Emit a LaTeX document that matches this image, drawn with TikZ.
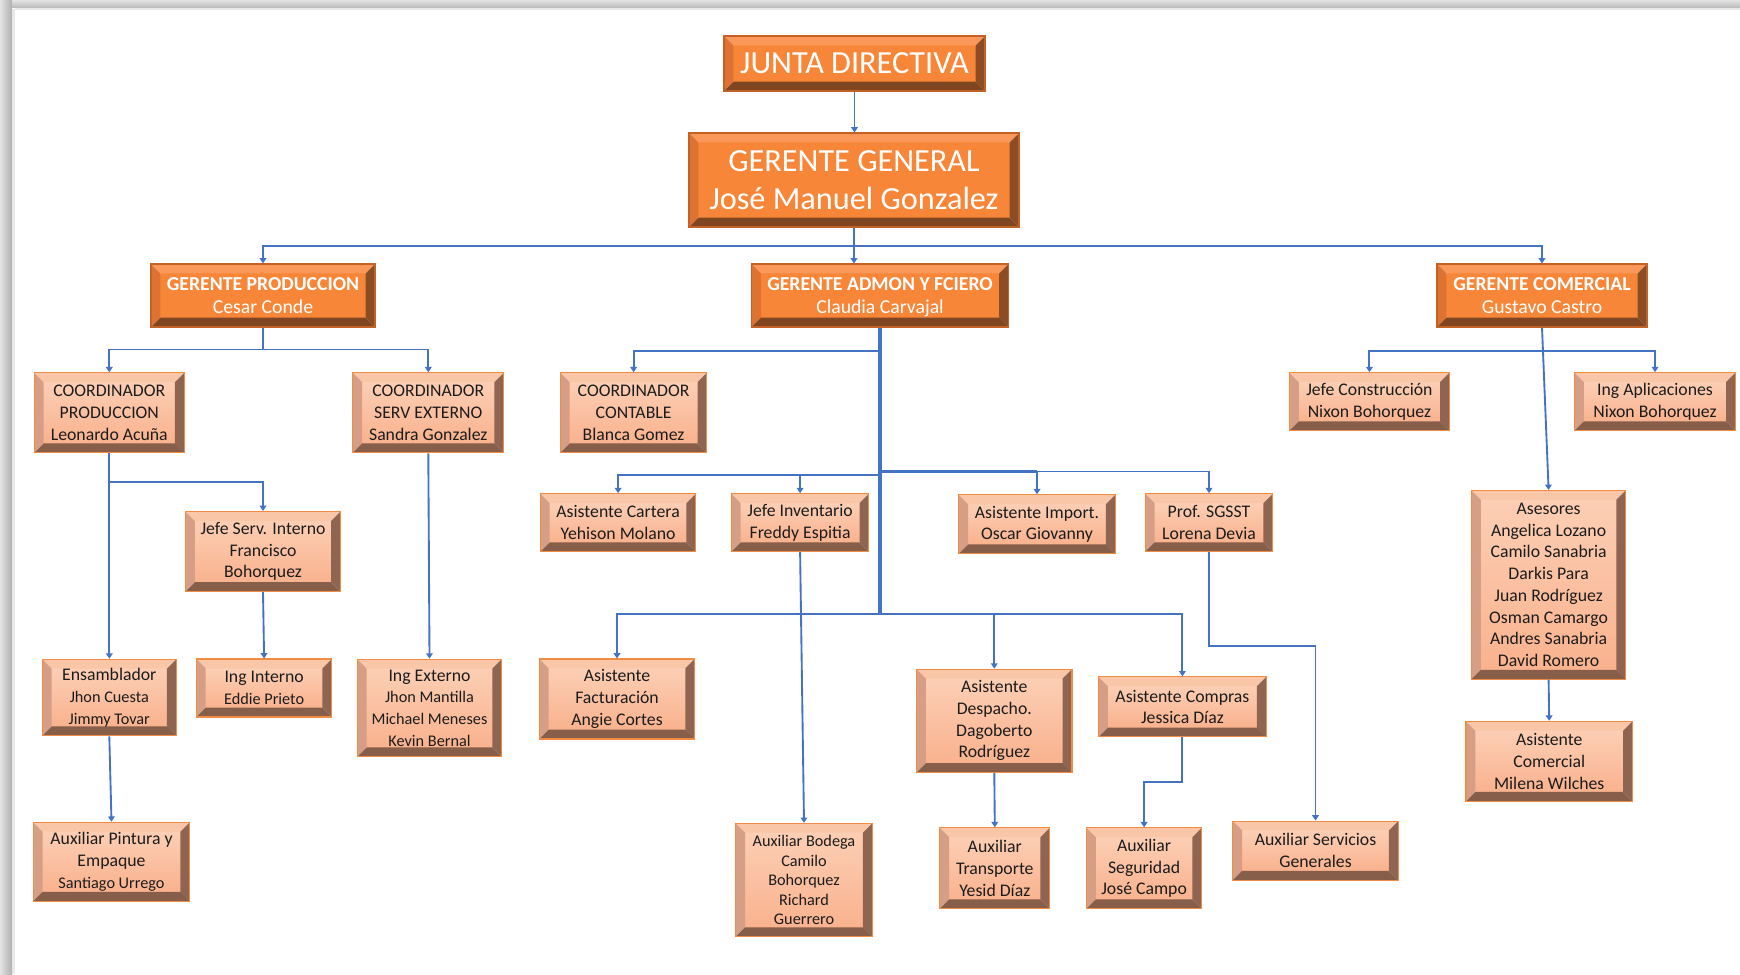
\documentclass[tikz,border=0pt]{standalone}
\usepackage{fontspec}
\setmainfont{Carlito}
\usetikzlibrary{arrows.meta}

\definecolor{linkblue}{RGB}{68,114,196}
\definecolor{orFace}{RGB}{247,134,56}
\definecolor{orTop}{RGB}{249,152,88}
\definecolor{orLeft}{RGB}{222,114,48}
\definecolor{orRight}{RGB}{140,76,36}
\definecolor{orBottom}{RGB}{128,70,34}
\definecolor{orEdge}{RGB}{196,98,38}
\definecolor{pkFaceT}{RGB}{252,206,180}
\definecolor{pkFaceB}{RGB}{249,178,142}
\definecolor{pkTop}{RGB}{250,198,168}
\definecolor{pkLeft}{RGB}{214,158,132}
\definecolor{pkRight}{RGB}{143,101,82}
\definecolor{pkBottom}{RGB}{134,94,74}
\definecolor{pkEdge}{RGB}{241,140,66}
\definecolor{txt}{RGB}{28,28,28}

% bevel width of the raised boxes
\newcommand\bev{7pt}
% face-top, face-bottom, top, left, right, bottom colours
\newcommand\bevelbox[6]{%
  \path (path picture bounding box.north west) coordinate (pNW)
        (path picture bounding box.north east) coordinate (pNE)
        (path picture bounding box.south west) coordinate (pSW)
        (path picture bounding box.south east) coordinate (pSE)
        ([xshift=\bev,yshift=-\bev]pNW) coordinate (iNW)
        ([xshift=-\bev,yshift=-\bev]pNE) coordinate (iNE)
        ([xshift=\bev,yshift=\bev]pSW) coordinate (iSW)
        ([xshift=-\bev,yshift=\bev]pSE) coordinate (iSE);
  \shade[top color=#1,bottom color=#2] (iNW) rectangle (iSE);
  \fill[#3] (pNW) -- (pNE) -- (iNE) -- (iNW) -- cycle;
  \fill[#4] (pNW) -- (iNW) -- (iSW) -- (pSW) -- cycle;
  \fill[#5] (pNE) -- (pSE) -- (iSE) -- (iNE) -- cycle;
  \fill[#6] (pSW) -- (iSW) -- (iSE) -- (pSE) -- cycle;
}

\newcommand\subf{\fontsize{13.3}{16.3}\selectfont}
\newcommand\smf{\fontsize{12.2}{14.6}\selectfont}
\newcommand\gerf{\fontsize{14.8}{17.5}\selectfont}
\newcommand\bigf{\fontsize{24.2}{29}\selectfont}

\tikzset{
  box/.style={rectangle, inner sep=0pt, align=center, line width=0.8pt},
  topbox/.style={box, draw=orEdge, text=white,
    path picture={\bevelbox{orFace}{orFace}{orTop}{orLeft}{orRight}{orBottom}}},
  subbox/.style={box, draw=pkEdge, text=txt, font=\subf,
    path picture={\bevelbox{pkFaceT}{pkFaceB}{pkTop}{pkLeft}{pkRight}{pkBottom}}},
  sz/.style 2 args={minimum width=#1*0.75pt, minimum height=#2*0.75pt},
  link/.style={draw=linkblue, line width=1.4pt},
  arr/.style={link, -{Triangle[length=4pt,width=5pt]}},
  trunk/.style={draw=linkblue, line width=2.3pt},
}

\begin{document}
\begin{tikzpicture}[x=0.75pt, y=-0.75pt]
\useasboundingbox (0,0) rectangle (1740,974);

% page shadow along the left and top edges
\shade[left color=gray!22, right color=gray!62] (0,0) rectangle (12,974);
\fill[gray!18] (12,9) rectangle (14.5,974);
\shade[top color=gray!22, bottom color=gray!55] (12,0) rectangle (1740,8);
\fill[gray!18] (14.5,8) rectangle (1740,10);

% ---------- boxes ----------
\node[topbox, sz={261}{55}, font=\bigf] (jd) at (854.5,63.5) {JUNTA DIRECTIVA};
\node[topbox, sz={330}{94}, font=\bigf] (gg) at (854,180) {GERENTE GENERAL\\José Manuel Gonzalez};
\node[topbox, sz={224}{63}, font=\gerf] (gp) at (263,295.5) {\textbf{GERENTE PRODUCCION}\\Cesar Conde};
\node[topbox, sz={257}{63}, font=\gerf, text depth=0pt] (ga) at (880,295.5) {\textbf{GERENTE ADMON Y FCIERO}\\Claudia Carvajal};
\node[topbox, sz={210}{63}, font=\gerf] (gc) at (1542,295.5) {\textbf{GERENTE COMERCIAL}\\Gustavo Castro};

\node[subbox, sz={150}{80}] (cp) at (109.3,412.8) {COORDINADOR\\PRODUCCION\\Leonardo Acuña};
\node[subbox, sz={151}{80}] (cs) at (428.3,412.8) {COORDINADOR\\SERV EXTERNO\\Sandra Gonzalez};
\node[subbox, sz={146.5}{80}] (cc) at (633.6,412.8) {COORDINADOR\\CONTABLE\\Blanca Gomez};
\node[subbox, sz={160}{58}] (jc) at (1369.4,401.7) {Jefe Construcción\\Nixon Bohorquez};
\node[subbox, sz={161}{58}] (ia) at (1655,401.7) {Ing Aplicaciones\\Nixon Bohorquez};

\node[subbox, sz={155}{80}] (jsi) at (263,551.5) {Jefe Serv. Interno\\Francisco\\Bohorquez};
\node[subbox, sz={155.4}{58}] (acar) at (618.1,522.7) {Asistente Cartera\\Yehison Molano};
\node[subbox, sz={137.6}{58}] (jinv) at (800.1,522.7) {Jefe Inventario\\Freddy Espitia};
\node[subbox, sz={156.5}{59}] (aimp) at (1037,524.3) {Asistente Import.\\Oscar Giovanny};
\node[subbox, sz={127.6}{58}] (sg) at (1209,522.7) {Prof. SGSST\\Lorena Devia};
\node[subbox, sz={154}{188.6}] (ase) at (1548.6,584.8) {Asesores\\Angelica Lozano\\Camilo Sanabria\\Darkis Para\\Juan Rodríguez\\Osman Camargo\\Andres Sanabria\\David Romero};

\node[subbox, sz={134}{76.5}] (ens) at (109.3,697.5) {Ensamblador\\\smf Jhon Cuesta\\\smf Jimmy Tovar};
\node[subbox, sz={135.4}{58}] (ii) at (264.1,688) {Ing Interno\\\smf Eddie Prieto};
\node[subbox, sz={144.3}{97.6}] (ie) at (429.5,708) {Ing Externo\\\smf Jhon Mantilla\\\smf Michael Meneses\\\smf Kevin Bernal};
\node[subbox, sz={155.4}{80}] (af) at (617,699) {Asistente\\Facturación\\Angie Cortes};
\node[subbox, sz={155.4}{103.2}] (ad) at (994.3,720.8) {Asistente\\Despacho.\\Dagoberto\\Rodríguez};
\node[subbox, sz={167.6}{60}] (aco) at (1182.4,706.9) {Asistente Compras\\Jessica Díaz};
\node[subbox, sz={166.5}{80}] (acm) at (1549.2,761.3) {Asistente\\Comercial\\Milena Wilches};

\node[subbox, sz={156.5}{78.8}] (ap) at (111.5,861.7) {Auxiliar Pintura y\\Empaque\\\smf Santiago Urrego};
\node[subbox, sz={136.5}{113.2}, font=\smf] (ab) at (804,880) {Auxiliar Bodega\\Camilo\\Bohorquez\\Richard\\Guerrero};
\node[subbox, sz={110}{81}] (at) at (994.8,868.3) {Auxiliar\\Transporte\\Yesid Díaz};
\node[subbox, sz={115.4}{81}] (aseg) at (1144.1,868.3) {Auxiliar\\Seguridad\\José Campo};
\node[subbox, sz={165.3}{59}] (asv) at (1315.5,850.6) {Auxiliar Servicios\\Generales};

% ---------- junction points ----------
\coordinate (bus) at (854,246);
\coordinate (bp) at (263,349.5);
\coordinate (bcp) at (109.3,481.7);
\coordinate (ba1) at (880,350.7);
\coordinate (ba2) at (880,475);
\coordinate (ba3) at (880,471.5);
\coordinate (ta) at (880,613.6);
\coordinate (bco) at (1182.4,782);
\coordinate (bsg) at (1209,646);
\coordinate (bc) at (1543,350.7);

% ---------- connectors ----------
\draw[arr] (jd.south) -- (jd.south |- gg.north);
\draw[link] (gg.south) -- (bus);
\draw[arr] (bus) -| (gp.north);
\draw[arr] (bus) -| (gc.north);
\draw[arr] (bus) -- (bus |- ga.north);

% production branch
\draw[link] (gp.south) -- (bp);
\draw[arr] (bp) -| (cp.north);
\draw[arr] (bp) -| (cs.north);
\draw[arr] (cp.south) -- (ens.north);
\draw[arr] (bcp) -| (jsi.north);
\draw[arr] (jsi.south) -- (ii.north);
\draw[arr] (cs.south) -- (ie.north);
\draw[arr] (ens.south) -- (ap.north);

% administration branch
\draw[trunk] (ga.south) -- (ta);
\draw[arr] (ba1) -| (cc.north);
\draw[arr] (ba2) -| (acar.north);
\draw[arr] (ba2) -| (jinv.north);
\draw[trunk] (ba3) -- (aimp.north |- ba3);
\draw[arr] (ba3) -| (aimp.north);
\draw[arr] (ba3) -| (sg.north);
\draw[arr] (ta) -| (af.north);
\draw[arr] (ta) -| (ad.north);
\draw[arr] (ta) -| (aco.north);
\draw[arr] (jinv.south) -- (ab.north);
\draw[arr] (ad.south) -- (at.north);
\draw[arr] (aco.south) -- (bco) -| (aseg.north);
\draw[arr] (sg.south) -- (bsg) -| (asv.north);

% commercial branch
\draw[arr] (gc.south) -- (ase.north);
\draw[arr] (bc) -| (jc.north);
\draw[arr] (bc) -| (ia.north);
\draw[arr] (ase.south) -- (acm.north);
\end{tikzpicture}
\end{document}
